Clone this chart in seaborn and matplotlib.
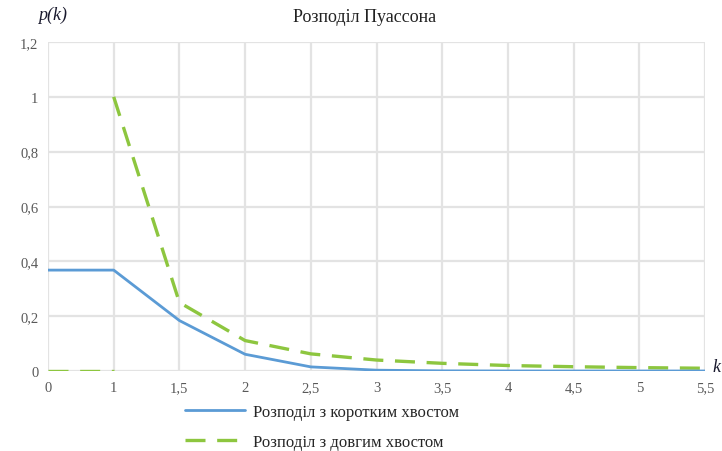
import matplotlib
matplotlib.use("Agg")
import matplotlib.pyplot as plt
import seaborn as sns
import pandas as pd

# Data
categories = ["0", "1", "1,5", "2", "2,5", "3", "3,5", "4", "4,5", "5", "5,5"]
short_tail = [0.368, 0.368, 0.184, 0.061, 0.015, 0.003, 0.0005, 0.0001, 0.0, 0.0, 0.0]
long_tail_head = [0.0, 0.0]          # categories "0" and "1" (flat part)
long_tail = [1.0, 0.25, 0.111, 0.0625, 0.04, 0.028, 0.02, 0.0156, 0.0123, 0.01]  # from "1" on
y_ticks = [0, 0.2, 0.4, 0.6, 0.8, 1.0, 1.2]
y_tick_labels = ["0", "0,2", "0,4", "0,6", "0,8", "1", "1,2"]
label_short = "Розподіл з коротким хвостом"
label_long = "Розподіл з довгим хвостом"
title = "Розподіл Пуассона"

sns.set_style("whitegrid")
plt.rcParams["font.family"] = ["Liberation Serif", "DejaVu Serif"]

blue = "#5b9bd5"
green = "#8dc63f"

fig = plt.figure(figsize=(7.22, 4.52), dpi=100)
ax = fig.add_axes([48 / 722, 1 - 372 / 452, (705 - 48) / 722, (372 - 43) / 452])

pos = list(range(len(categories)))
df_short = pd.DataFrame({"x": pos, "y": short_tail})
df_head = pd.DataFrame({"x": pos[:2], "y": long_tail_head})
df_long = pd.DataFrame({"x": pos[1:], "y": long_tail})

sns.lineplot(data=df_short, x="x", y="y", ax=ax, color=blue, linewidth=2.0,
             label=label_short, zorder=3)
sns.lineplot(data=df_head, x="x", y="y", ax=ax, color=green, linewidth=2.4,
             dashes=(6, 3.5), label="_nolegend_", zorder=2)
sns.lineplot(data=df_long, x="x", y="y", ax=ax, color=green, linewidth=2.4,
             dashes=(6, 3.5), label=label_long, zorder=2)

ax.set_xlim(0, len(categories) - 1)
ax.set_ylim(0, 1.2)
ax.set_xticks(pos)
ax.set_xticklabels(categories)
ax.set_yticks(y_ticks)
ax.set_yticklabels(y_tick_labels)
ax.set_xlabel("")
ax.set_ylabel("")
ax.grid(True, color="#e3e3e3", linewidth=1.6)
for s in ax.spines.values():
    s.set_visible(False)
ax.tick_params(axis="both", colors="#595959", labelsize=10.5, length=0, pad=7)

fig.text(365 / 722, 1 - 18 / 452, title, ha="center", va="center", fontsize=13, color="#222222")
fig.text(38 / 722, 1 - 15 / 452, "p(k)", ha="left", va="center", fontsize=13,
         style="italic", color="#1a1a2e")
fig.text(712 / 722, 1 - 368 / 452, "k", ha="left", va="center", fontsize=13,
         style="italic", color="#1a1a2e")

if ax.get_legend():
    ax.get_legend().remove()
handles, labels = ax.get_legend_handles_labels()
fig.legend(handles, labels, loc="upper left", bbox_to_anchor=(178 / 722, 1 - 398 / 452),
           frameon=False, fontsize=12, handlelength=3.6, labelspacing=0.85,
           handletextpad=0.5, borderaxespad=0)

fig.savefig("out.png", dpi=100)
